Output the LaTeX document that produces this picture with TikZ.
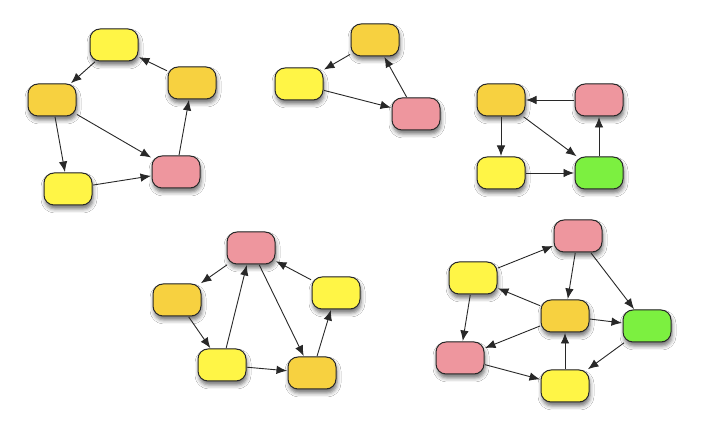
\documentclass[tikz,border=0pt]{standalone}
\usetikzlibrary{arrows.meta,shadows.blur}
\definecolor{cyel}{RGB}{255,245,70}
\definecolor{corg}{RGB}{247,209,64}
\definecolor{cpink}{RGB}{238,150,158}
\definecolor{cgreen}{RGB}{124,240,64}
\definecolor{cline}{RGB}{40,40,40}
\tikzset{
  box/.style={draw=cline, line width=1pt, rounded corners=10pt, minimum width=48pt, minimum height=32pt, inner sep=0pt,
    blur shadow={shadow xshift=1pt, shadow yshift=-4pt, shadow blur radius=4pt, shadow opacity=55}},
  yel/.style={box, fill=cyel},
  org/.style={box, fill=corg},
  pnk/.style={box, fill=cpink},
  grn/.style={box, fill=cgreen},
  arr/.style={draw=cline, line width=0.9pt, -{Latex[length=10.5pt,width=8.5pt]}, shorten >=0.5pt, shorten <=0.5pt}
}
\begin{document}
\begin{tikzpicture}[x=1pt,y=1pt]
\useasboundingbox (0,0) rectangle (720,422);
\fill[white] (0,0) rectangle (720,422);
% graph 1
\node[yel] (A) at (114,377) {};
\node[org] (B) at (52,322) {};
\node[org] (C) at (192,339) {};
\node[yel] (D) at (68,233) {};
\node[pnk] (E) at (176,250) {};
% graph 2
\node[org] (F) at (375,382) {};
\node[yel] (G) at (299,338) {};
\node[pnk] (H) at (416,308) {};
% graph 3
\node[org] (I) at (501,322) {};
\node[pnk] (J) at (599,322) {};
\node[yel] (K) at (501,249) {};
\node[grn] (L) at (599,249) {};
% graph 4
\node[pnk] (M) at (251,174) {};
\node[org] (N) at (177,122) {};
\node[yel] (O) at (336,129) {};
\node[yel] (P) at (222,57) {};
\node[org] (Q) at (312,49) {};
% graph 5
\node[pnk] (R) at (578,186) {};
\node[yel] (S) at (473,144) {};
\node[org] (T) at (565,106) {};
\node[grn] (U) at (647,96) {};
\node[pnk] (V) at (460,64) {};
\node[yel] (W) at (565,36) {};
% edges graph 1
\draw[arr] (A) -- (B);
\draw[arr] (C) -- (A);
\draw[arr] (B) -- (D);
\draw[arr] (B) -- (E);
\draw[arr] (D) -- (E);
\draw[arr] (E) -- (C);
% graph 2
\draw[arr] (F) -- (G);
\draw[arr] (G) -- (H);
\draw[arr] (H) -- (F);
% graph 3
\draw[arr] (J) -- (I);
\draw[arr] (I) -- (K);
\draw[arr] (I) -- (L);
\draw[arr] (K) -- (L);
\draw[arr] (L) -- (J);
% graph 4
\draw[arr] (M) -- (N);
\draw[arr] (N) -- (P);
\draw[arr] (P) -- (M);
\draw[arr] (M) -- (Q);
\draw[arr] (P) -- (Q);
\draw[arr] (Q) -- (O);
\draw[arr] (O) -- (M);
% graph 5
\draw[arr] (S) -- (R);
\draw[arr] (R) -- (T);
\draw[arr] (R) -- (U);
\draw[arr] (T) -- (S);
\draw[arr] (T) -- (U);
\draw[arr] (T) -- (V);
\draw[arr] (S) -- (V);
\draw[arr] (V) -- (W);
\draw[arr] (W) -- (T);
\draw[arr] (U) -- (W);
\end{tikzpicture}
\end{document}
